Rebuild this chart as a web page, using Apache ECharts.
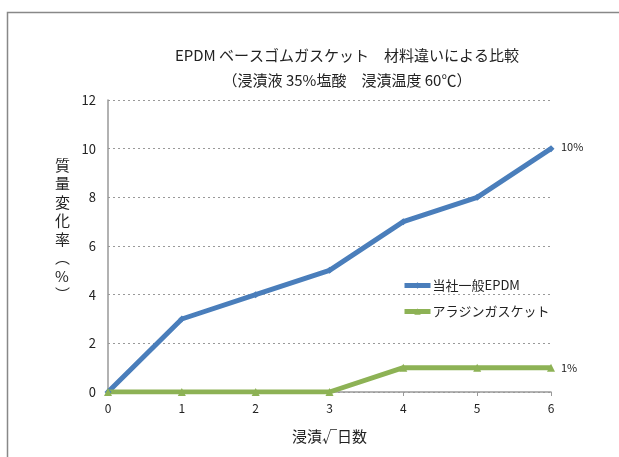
<!DOCTYPE html>
<html><head><meta charset="utf-8">
<script src="https://cdn.jsdelivr.net/npm/echarts@6/dist/echarts.min.js"></script>
<style>html,body{margin:0;padding:0;background:#fff}#c{width:619px;height:457px}</style>
</head><body><div id="c"></div>
<script>
const categories = ['0','1','2','3','4','5','6'];
const seriesNames = ['当社一般EPDM','アラジンガスケット'];
const epdmValues = [0,3,4,5,7,8,10];
const aladdinValues = [0,0,0,0,1,1,1];
const yTicks = {min:0, max:12, interval:2};
const titleLines = ['EPDM ベースゴムガスケット　材料違いによる比較','（浸漬液 35%塩酸　浸漬温度 60℃）'];
const xName = '浸漬√日数';
const yNameChars = ['質','量','変','化','率','︵','%','︶'];

const FONT = '"Noto Sans CJK JP", "Noto Sans", sans-serif';
const chart = echarts.init(document.getElementById('c'));
chart.setOption({
  animation:false,
  backgroundColor:'#fff',
  title:{text:titleLines.join('\n'), left:342, top:38, textAlign:'center',
    textStyle:{fontFamily:FONT, fontSize:15, fontWeight:'normal', color:'#222', lineHeight:25}},
  grid:{left:108, right:68, top:100, bottom:65},
  legend:{orient:'vertical', left:397, top:274, itemGap:13, itemWidth:26, itemHeight:8,
    data:seriesNames, lineStyle:{width:5},
    textStyle:{fontFamily:FONT, fontSize:13, color:'#222', padding:[0,0,0,-3]}},
  xAxis:{type:'category', data:categories, boundaryGap:false,
    name:xName, nameLocation:'middle', nameGap:37,
    nameTextStyle:{fontFamily:FONT, fontSize:15, color:'#222'},
    axisLine:{lineStyle:{color:'#999', width:1.5}},
    axisTick:{show:true, alignWithLabel:true, length:4, lineStyle:{color:'#999'}},
    axisLabel:{fontFamily:FONT, fontSize:12, color:'#222', margin:10},
    splitLine:{show:false}},
  yAxis:{type:'value', min:yTicks.min, max:yTicks.max, interval:yTicks.interval,
    axisLine:{show:true, lineStyle:{color:'#999', width:1.5}},
    axisTick:{show:false},
    axisLabel:{fontFamily:FONT, fontSize:13, color:'#222', margin:12},
    splitLine:{lineStyle:{color:'#999', type:[2,3], width:1}}},
  graphic:[
    {type:'polyline', shape:{points:[[7.5,460],[7.5,12.5],[625,12.5]]}, style:{stroke:'#888', lineWidth:1.5, fill:null}},
    {type:'text', left:55, top:156, style:{text:yNameChars.join('\n'), font:'15px '+FONT, fill:'#222', lineHeight:18.5, align:'center'}}
  ],
  series:[
    {name:seriesNames[0], type:'line', data:epdmValues, symbol:'diamond', symbolSize:7,
      lineStyle:{color:'#4a7ebb', width:5}, itemStyle:{color:'#4a7ebb'},
      endLabel:{show:true, formatter:'{c}%', fontFamily:FONT, fontSize:11, color:'#222', distance:10, offset:[0,-2]}},
    {name:seriesNames[1], type:'line', data:aladdinValues, symbol:'triangle', symbolSize:8,
      lineStyle:{color:'#8db255', width:5}, itemStyle:{color:'#8db255'},
      endLabel:{show:true, formatter:'{c}%', fontFamily:FONT, fontSize:11, color:'#222', distance:10, offset:[0,0]}}
  ]
});
</script></body></html>
